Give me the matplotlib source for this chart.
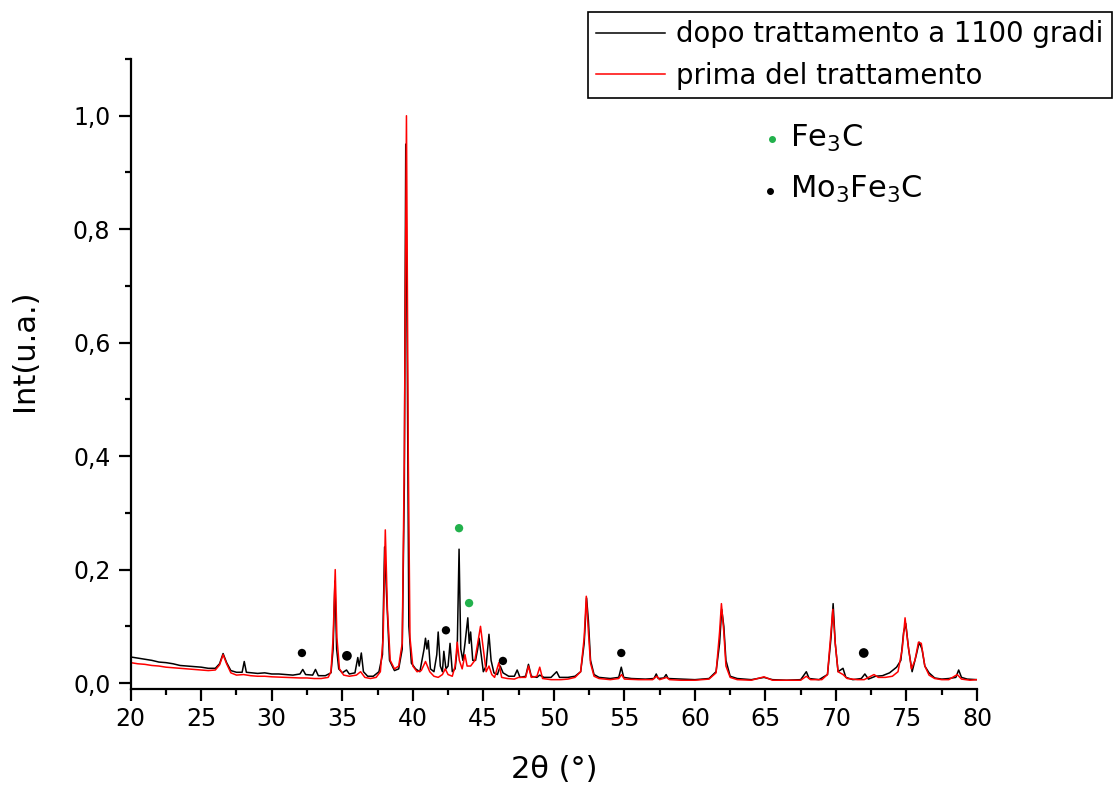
import matplotlib
matplotlib.use("Agg")
import matplotlib.pyplot as plt
from matplotlib.ticker import MultipleLocator

# ---------------- data ----------------
after_x = [20.0, 20.5, 21.0, 21.5, 22.0, 22.5, 23.0, 23.5, 24.0, 24.5, 25.0, 25.5, 26.0, 26.3, 26.55, 26.8,
           27.1, 27.5, 27.9, 28.05, 28.2, 28.6, 29.0, 29.5, 30.0, 30.5, 31.0, 31.5, 32.0, 32.2, 32.4, 32.9,
           33.1, 33.3, 33.8, 34.2, 34.35, 34.48, 34.6, 34.75, 35.0, 35.3, 35.5, 35.9, 36.1, 36.2, 36.35, 36.5,
           36.8, 37.2, 37.6, 37.85, 38.0, 38.15, 38.35, 38.7, 39.0, 39.25, 39.4, 39.5, 39.6, 39.72, 39.9, 40.2,
           40.5, 40.8, 40.9, 41.0, 41.1, 41.25, 41.5, 41.7, 41.8, 41.95, 42.1, 42.2, 42.35, 42.5, 42.64, 42.8,
           43.0, 43.15, 43.28, 43.4, 43.55, 43.7, 43.9, 44.0, 44.1, 44.25, 44.45, 44.6, 44.7, 44.85, 45.0, 45.2,
           45.4, 45.55, 45.75, 46.0, 46.2, 46.4, 46.8, 47.2, 47.4, 47.6, 48.0, 48.2, 48.4, 48.8, 49.0, 49.3,
           49.8, 50.2, 50.4, 51.0, 51.5, 51.9, 52.15, 52.32, 52.45, 52.6, 52.85, 53.2, 54.0, 54.6, 54.78, 54.95,
           55.5, 56.5, 57.1, 57.26, 57.4, 57.8, 57.96, 58.1, 59.0, 60.0, 61.0, 61.5, 61.75, 61.9, 62.05, 62.2,
           62.5, 63.0, 64.0, 64.9, 65.5, 66.5, 67.5, 67.9, 68.1, 68.8, 69.4, 69.65, 69.8, 69.95, 70.15, 70.5,
           70.7, 71.2, 71.8, 72.05, 72.3, 72.8, 73.3, 73.8, 74.3, 74.6, 74.8, 74.95, 75.15, 75.4, 75.7, 75.9,
           76.1, 76.3, 76.6, 77.0, 77.5, 78.0, 78.5, 78.7, 78.9, 79.3, 80.0]
after_y = [0.046, 0.044, 0.042, 0.040, 0.037, 0.036, 0.034, 0.031, 0.030, 0.029, 0.028, 0.026, 0.026, 0.034, 0.052, 0.036,
           0.022, 0.019, 0.019, 0.038, 0.019, 0.018, 0.017, 0.018, 0.016, 0.016, 0.015, 0.014, 0.016, 0.024, 0.015, 0.014,
           0.024, 0.013, 0.013, 0.018, 0.060, 0.180, 0.060, 0.025, 0.018, 0.023, 0.016, 0.018, 0.045, 0.030, 0.053, 0.020,
           0.012, 0.012, 0.020, 0.050, 0.240, 0.150, 0.040, 0.022, 0.025, 0.060, 0.350, 0.950, 0.600, 0.100, 0.035, 0.025,
           0.020, 0.060, 0.079, 0.060, 0.075, 0.025, 0.020, 0.050, 0.090, 0.030, 0.020, 0.056, 0.025, 0.030, 0.070, 0.020,
           0.025, 0.060, 0.236, 0.060, 0.040, 0.070, 0.115, 0.070, 0.090, 0.040, 0.040, 0.060, 0.079, 0.050, 0.020, 0.030,
           0.086, 0.040, 0.018, 0.015, 0.030, 0.018, 0.012, 0.012, 0.023, 0.010, 0.012, 0.033, 0.012, 0.010, 0.014, 0.010,
           0.010, 0.020, 0.010, 0.010, 0.012, 0.020, 0.070, 0.150, 0.110, 0.040, 0.015, 0.010, 0.008, 0.010, 0.028, 0.010,
           0.008, 0.007, 0.008, 0.016, 0.008, 0.009, 0.015, 0.008, 0.007, 0.006, 0.008, 0.020, 0.070, 0.130, 0.100, 0.040,
           0.012, 0.008, 0.006, 0.010, 0.006, 0.005, 0.006, 0.020, 0.008, 0.006, 0.015, 0.080, 0.140, 0.070, 0.020, 0.026,
           0.010, 0.006, 0.008, 0.016, 0.007, 0.012, 0.013, 0.018, 0.028, 0.040, 0.090, 0.105, 0.060, 0.020, 0.050, 0.072,
           0.060, 0.030, 0.018, 0.009, 0.007, 0.008, 0.010, 0.023, 0.010, 0.007, 0.006]

before_x = [20.0, 20.5, 21.0, 21.5, 22.0, 22.5, 23.0, 23.5, 24.0, 24.5, 25.0, 25.5, 26.0, 26.3, 26.55, 26.8,
            27.1, 27.5, 28.0, 28.5, 29.0, 29.5, 30.0, 31.0, 32.0, 32.5, 33.0, 33.5, 34.0, 34.2, 34.35, 34.5,
            34.62, 34.8, 35.1, 35.5, 36.0, 36.3, 36.6, 37.0, 37.4, 37.7, 37.9, 38.05, 38.2, 38.4, 38.7, 39.0,
            39.25, 39.4, 39.55, 39.68, 39.8, 40.0, 40.3, 40.6, 40.9, 41.2, 41.5, 41.8, 42.1, 42.3, 42.5, 42.8,
            43.0, 43.15, 43.3, 43.5, 43.7, 43.85, 44.1, 44.4, 44.6, 44.8, 45.0, 45.2, 45.4, 45.6, 45.8, 46.1,
            46.3, 46.7, 47.2, 47.5, 48.0, 48.2, 48.4, 48.8, 49.0, 49.2, 49.8, 50.5, 51.0, 51.5, 51.9, 52.15,
            52.3, 52.45, 52.6, 52.85, 53.2, 54.0, 54.6, 54.8, 55.0, 56.0, 57.0, 57.3, 57.5, 58.0, 58.2, 59.0,
            60.0, 61.0, 61.5, 61.75, 61.88, 62.05, 62.2, 62.5, 63.0, 64.0, 64.9, 65.5, 66.5, 67.5, 67.9, 68.2,
            69.0, 69.4, 69.65, 69.78, 69.95, 70.15, 70.5, 70.8, 71.5, 72.0, 72.7, 73.0, 73.5, 74.0, 74.4, 74.7,
            74.9, 75.1, 75.35, 75.6, 75.85, 76.05, 76.3, 76.6, 77.0, 77.5, 78.0, 78.6, 78.9, 79.5, 80.0]
before_y = [0.036, 0.034, 0.033, 0.031, 0.030, 0.028, 0.027, 0.026, 0.025, 0.024, 0.023, 0.022, 0.023, 0.032, 0.050, 0.034,
            0.018, 0.014, 0.015, 0.013, 0.012, 0.012, 0.011, 0.010, 0.009, 0.009, 0.008, 0.008, 0.010, 0.020, 0.080, 0.200,
            0.080, 0.025, 0.014, 0.012, 0.014, 0.020, 0.010, 0.008, 0.010, 0.020, 0.080, 0.270, 0.130, 0.040, 0.025, 0.030,
            0.070, 0.400, 1.000, 0.400, 0.080, 0.030, 0.020, 0.022, 0.038, 0.020, 0.012, 0.010, 0.015, 0.025, 0.015, 0.012,
            0.030, 0.072, 0.040, 0.025, 0.050, 0.030, 0.030, 0.040, 0.070, 0.100, 0.060, 0.020, 0.030, 0.015, 0.010, 0.036,
            0.010, 0.008, 0.007, 0.010, 0.010, 0.030, 0.010, 0.012, 0.028, 0.008, 0.006, 0.006, 0.007, 0.010, 0.020, 0.080,
            0.153, 0.090, 0.035, 0.012, 0.008, 0.006, 0.008, 0.015, 0.007, 0.006, 0.006, 0.012, 0.006, 0.010, 0.006, 0.005,
            0.005, 0.007, 0.018, 0.090, 0.140, 0.090, 0.030, 0.010, 0.006, 0.005, 0.011, 0.005, 0.005, 0.005, 0.012, 0.006,
            0.006, 0.015, 0.090, 0.130, 0.070, 0.020, 0.015, 0.008, 0.006, 0.006, 0.015, 0.010, 0.010, 0.012, 0.020, 0.060,
            0.115, 0.070, 0.025, 0.040, 0.072, 0.070, 0.030, 0.014, 0.008, 0.006, 0.006, 0.015, 0.007, 0.005, 0.006]

# phase markers
fe3c_x = [43.28, 43.99]
fe3c_y = [0.273, 0.141]
mo3fe3c_x = [32.14, 35.33, 42.35, 46.39, 54.78, 71.97]
mo3fe3c_y = [0.053, 0.048, 0.093, 0.039, 0.053, 0.053]
mo3fe3c_size = [6, 7, 6, 6, 6, 7]

series_labels = ["dopo trattamento a 1100 gradi", "prima del trattamento"]
phase_labels = [r"Fe$_3$C", r"Mo$_3$Fe$_3$C"]

x_ticks = [20, 25, 30, 35, 40, 45, 50, 55, 60, 65, 70, 75, 80]
y_ticks = [0.0, 0.2, 0.4, 0.6, 0.8, 1.0]
y_tick_labels = ["0,0", "0,2", "0,4", "0,6", "0,8", "1,0"]

# ---------------- figure ----------------
plt.rcParams['font.family'] = ['DejaVu Sans']
W, H = 1113, 789
fig = plt.figure(figsize=(W / 100, H / 100), dpi=100)
L, R, B, T = 130.7, 977.0, 689.3, 59.0
ax = fig.add_axes([L / W, 1 - B / H, (R - L) / W, (B - T) / H])

l1, = ax.plot(after_x, after_y, color='black', lw=1.1, label=series_labels[0])
l2, = ax.plot(before_x, before_y, color='#ff0000', lw=1.1, label=series_labels[1])

green = '#22b14c'
ax.scatter(fe3c_x, fe3c_y, s=[36, 36], color=green, zorder=5, linewidths=0)
ax.scatter(mo3fe3c_x, mo3fe3c_y, s=[m ** 2 for m in mo3fe3c_size], color='black', zorder=5, linewidths=0)

ax.set_xlim(20, 80)
ax.set_ylim(-0.011, 1.1)
ax.set_xticks(x_ticks)
ax.set_yticks(y_ticks)
ax.set_yticklabels(y_tick_labels)
ax.xaxis.set_minor_locator(MultipleLocator(2.5))
ax.yaxis.set_minor_locator(MultipleLocator(0.1))
for s in ['top', 'right']:
    ax.spines[s].set_visible(False)
for s in ['left', 'bottom']:
    ax.spines[s].set_linewidth(1.6)
ax.tick_params(which='major', direction='out', length=8.6, width=1.6, labelsize=17, pad=4)
ax.tick_params(which='minor', direction='out', length=4.3, width=1.6)
ax.tick_params(axis='y', which='major', pad=6)

ax.set_xlabel("2θ (°)", fontsize=22)
ax.set_ylabel("Int(u.a.)", fontsize=22)
ax.xaxis.set_label_coords(0.5, -0.105)
ax.yaxis.set_label_coords(-0.108, 0.538)

# phase key
fig.text(790 / W, 1 - 147 / H, phase_labels[0], fontsize=22, va='baseline', ha='left')
fig.text(790 / W, 1 - 198 / H, phase_labels[1], fontsize=22, va='baseline', ha='left')
fig.add_artist(plt.Line2D([772 / W], [1 - 139 / H], marker='o', ms=4, color=green, lw=0))
fig.add_artist(plt.Line2D([770 / W], [1 - 191 / H], marker='o', ms=4, color='black', lw=0))

leg = ax.legend(handles=[l1, l2], loc='upper left', bbox_to_anchor=(588 / W, 1 - 12 / H),
                bbox_transform=fig.transFigure, borderaxespad=0, fontsize=19.8,
                fancybox=False, framealpha=1, edgecolor='black', borderpad=0.3,
                handlelength=2.5, handletextpad=0.4, labelspacing=0.5)
leg.get_frame().set_linewidth(1.2)

fig.savefig("out.png", dpi=100)
